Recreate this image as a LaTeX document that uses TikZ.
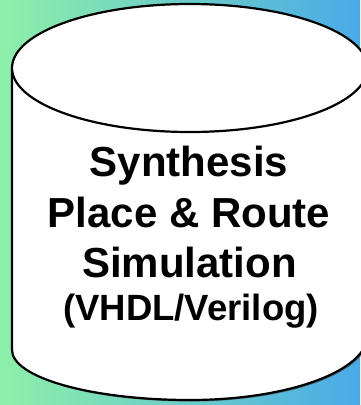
\documentclass[tikz,border=0pt]{standalone}
\usepackage{fontspec}
\setmainfont{Liberation Sans}
\begin{document}
\begin{tikzpicture}[x=1pt,y=-1pt,
  bigline/.style={font=\fontsize{42}{46}\selectfont\bfseries, anchor=base, inner sep=0pt},
  smallline/.style={font=\fontsize{36.5}{40}\selectfont\bfseries, anchor=base, inner sep=0pt},
  rim/.style={draw=black, line width=2.2pt}]
\definecolor{bgleft}{RGB}{142,240,168}
\definecolor{bgright}{RGB}{74,170,232}
% background
\shade[left color=bgleft, right color=bgright] (0,0) rectangle (360,405);
\useasboundingbox (0,0) rectangle (360,405);
% soft shadow of the drum
\fill[black!75, opacity=0.6] (13.5,69.5) -- (13.5,351.5)
  arc[start angle=180, end angle=90, x radius=177.8, y radius=50]
  arc[start angle=90, end angle=0, x radius=177.8, y radius=65]
  -- (369.1,69.5)
  arc[start angle=0, end angle=-180, x radius=177.8, y radius=64] -- cycle;
% drum body
\fill[white] (12,68) -- (12,350)
  arc[start angle=180, end angle=90, x radius=177.8, y radius=50]
  arc[start angle=90, end angle=0, x radius=177.8, y radius=65]
  -- (367.6,68)
  arc[start angle=0, end angle=-180, x radius=177.8, y radius=64] -- cycle;
\draw[rim] (12,68) -- (12,350)
  arc[start angle=180, end angle=90, x radius=177.8, y radius=50]
  arc[start angle=90, end angle=0, x radius=177.8, y radius=65]
  -- (367.6,68);
% top face
\draw[rim, fill=white] (189.8,68) ellipse[x radius=177.8, y radius=64];
% caption
\node[bigline] (l1) at (189,176) {Synthesis};
\node[bigline] (l2) at (189,227) {Place \& Route};
\node[bigline] (l3) at (189.5,277) {Simulation};
\node[smallline] (l4) at (191,320) {(VHDL/Verilog)};
\end{tikzpicture}
\end{document}
